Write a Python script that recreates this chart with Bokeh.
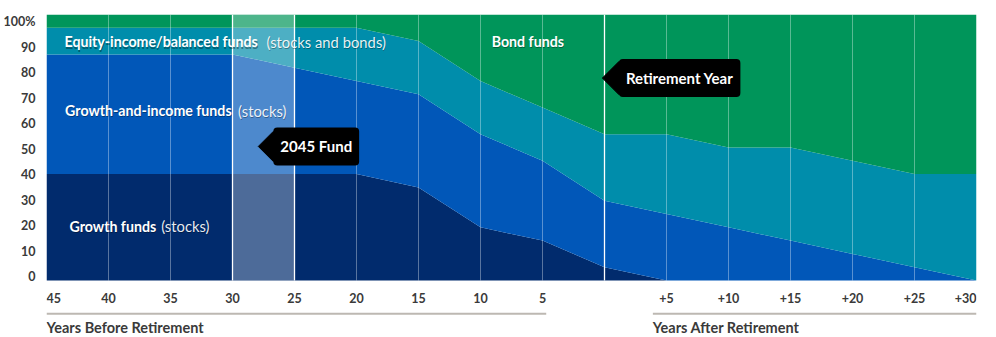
from bokeh.plotting import figure
from bokeh.models import ColumnDataSource, Range1d, LinearAxis, FixedTicker, Label
from bokeh.core.properties import value
from bokeh.embed import file_html
from bokeh.resources import INLINE

# Glide path: share of each fund group (percent) by year relative to retirement
years = [-45, -40, -35, -30, -25, -20, -15, -10, -5, 0, 5, 10, 15, 20, 25, 30]
growth = [40, 40, 40, 40, 40, 40, 35, 20, 15, 5, 0, 0, 0, 0, 0, 0]
growth_income = [45, 45, 45, 45, 40, 35, 35, 35, 30, 25, 25, 20, 15, 10, 5, 0]
equity_income = [10, 10, 10, 10, 15, 20, 20, 20, 20, 25, 30, 30, 35, 35, 35, 40]
bond = [5, 5, 5, 5, 5, 5, 10, 25, 35, 45, 45, 50, 50, 55, 60, 60]

x_ticks = [-45, -40, -35, -30, -25, -20, -15, -10, -5, 5, 10, 15, 20, 25, 30]
x_tick_labels = ["45", "40", "35", "30", "25", "20", "15", "10", "5",
                 "+5", "+10", "+15", "+20", "+25", "+30"]
y_ticks = [0, 10, 20, 30, 40, 50, 60, 70, 80, 90, 100]
y_tick_labels = ["0", "10", "20", "30", "40", "50", "60", "70", "80", "90", "100%"]

band_names = ["Growth funds", "Growth-and-income funds",
              "Equity-income/balanced funds", "Bond funds"]
band_notes = ["(stocks)", "(stocks)", "(stocks and bonds)", ""]

fund_window = (-30, -25)      # 2045 Fund target window
retirement_year = 0

FONT = "Lato"
colors = ["#012b6d", "#0157b8", "#008dab", "#00955a"]

src = ColumnDataSource(dict(year=years, growth=growth, growth_income=growth_income,
                            equity_income=equity_income, bond=bond))

p = figure(width=996, height=337, x_range=Range1d(-45, 30), y_range=Range1d(-21.43, 100),
           output_backend="svg", toolbar_location=None,
           x_axis_location=None, y_axis_location=None,
           min_border_left=45, min_border_right=20, min_border_top=14, min_border_bottom=0)
p.outline_line_color = None
p.background_fill_color = "white"
p.border_fill_color = "white"
p.xgrid.visible = False
p.ygrid.visible = False

# y axis labels on their own range
p.extra_y_ranges = {"labels": Range1d(-23.92, 102.75)}
yaxis = LinearAxis(y_range_name="labels", ticker=FixedTicker(ticks=y_ticks),
                   major_label_overrides={t: s for t, s in zip(y_ticks, y_tick_labels)})
yaxis.axis_line_color = None
yaxis.major_tick_line_color = None
yaxis.minor_tick_line_color = None
yaxis.major_tick_out = 0
yaxis.major_tick_in = 0
yaxis.minor_tick_out = 0
yaxis.minor_tick_in = 0
yaxis.major_label_standoff = 11
yaxis.major_label_text_font = FONT
yaxis.major_label_text_font_size = "12.5px"
yaxis.major_label_text_font_style = "bold"
yaxis.major_label_text_color = "#3a3a3a"
p.add_layout(yaxis, "left")

# stacked allocation areas
p.varea_stack(stackers=["growth", "growth_income", "equity_income", "bond"], x="year",
              color=colors, source=src)

# vertical guides every five years
grid_x = [x for x in x_ticks if x not in fund_window and x not in (-45, 30)]
p.segment(x0=grid_x, x1=grid_x, y0=0, y1=100, line_color="white", line_alpha=0.35, line_width=1)

# 2045 Fund window highlight
p.quad(left=[fund_window[0]], right=[fund_window[1]], bottom=[0], top=[100],
       fill_color="white", fill_alpha=0.3, line_color=None)
strong_x = [fund_window[0], fund_window[1], retirement_year]
p.segment(x0=strong_x, x1=strong_x, y0=0, y1=100, line_color="white", line_width=1.3)

# band labels (bold name followed by a lighter note)
name_x = [-43.15, -43.5, -43.55, -9.1]
name_y = [20.4, 63.9, 89.7, 89.85]
note_x = [-35.71, -29.51, -27.22]
for dx, dy, col, alpha in [(0.6, 1.2, "black", 0.35), (0, 0, "white", 1.0)]:
    p.text(x=name_x, y=name_y, text=band_names, text_font=value(FONT),
           text_font_size="14.2px", text_font_style="bold", text_color=col, text_alpha=alpha,
           text_baseline="middle", text_align="left", x_offset=dx, y_offset=dy)
    p.text(x=note_x, y=name_y[:3], text=band_notes[:3], text_font=value(FONT),
           text_font_size="14.8px", text_color=col, text_alpha=alpha * 0.92,
           text_baseline="middle", text_align="left", x_offset=dx - 0.5, y_offset=dy)

# callouts: pointed tag = rotated square + rounded box label
callouts = [("2045 Fund", -26.71, 50.4, 30), ("Retirement Year", 1.16, 76.1, 33)]
for text, cx, cy, h in callouts:
    p.scatter(x=[cx], y=[cy], marker="square", size=h / 1.4142, angle=45,
              angle_units="deg", color="black")
    p.add_layout(Label(x=cx, y=cy, text=text, text_align="left", text_baseline="middle",
                       text_color="white", text_font=FONT, text_font_size="15px",
                       text_font_style="bold", background_fill_color="black",
                       border_radius=4, padding=(7, 10)))

# x tick labels
aligns = ["left"] + ["center"] * (len(x_ticks) - 2) + ["right"]
p.text(x=x_ticks, y=[-6.4] * len(x_ticks), text=x_tick_labels, text_align=aligns,
       text_baseline="middle", text_font=value(FONT), text_font_size="12.5px",
       text_font_style="bold", text_color="#3a3a3a")

# section rules and titles
p.segment(x0=[-45, 3.9], x1=[-4.7, 30], y0=[-12.5, -12.5], y1=[-12.5, -12.5],
          line_color="#bdb8b2", line_width=2)
p.text(x=[-45, 3.9], y=[-17.7, -17.7], text=["Years Before Retirement", "Years After Retirement"],
       text_align="left", text_baseline="middle", text_font=value(FONT),
       text_font_size="14.5px", text_font_style="bold", text_color="#3a3a3a")

open("out.html", "w").write(file_html(p, INLINE))
